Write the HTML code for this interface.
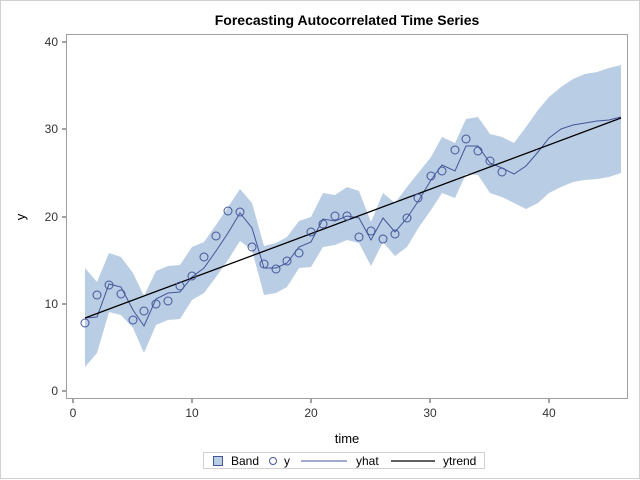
<!DOCTYPE html>
<html><head><style>body{margin:0;background:#fff}svg{display:block}</style></head><body>
<svg width="640" height="480" viewBox="0 0 640 480" xmlns="http://www.w3.org/2000/svg" font-family="Liberation Sans, Arial, sans-serif">
<rect x="0.5" y="0.5" width="639" height="478" fill="#fff" stroke="#d0d0d0"/>
<text x="347" y="25" text-anchor="middle" font-size="14" font-weight="bold" fill="#000">Forecasting Autocorrelated Time Series</text>
<polygon fill="#b9cde5" points="85,268 97,282 109,253 121,257 133,273 144,296 156,271 168,266 180,265 192,247 204,242 216,225 228,207 240,189 252,203 264,246 276,243 287,237 299,221 311,217 323,193 335,195 347,187 359,191 371,222 383,193 395,203 407,187 419,172 431,157 442,137 455,143 466,119 478,117 490,134 502,137 514,143 526,127 538,110 549,97 561,87 573,79 585,74 597,72 609,68 621,65 621,173 609,177 597,179 585,180 573,182 561,187 549,193 538,203 526,209 514,203 502,197 490,193 478,175 466,174 455,198 442,193 431,210 419,227 407,247 395,256 383,242 371,266 359,243 347,240 335,245 323,247 311,267 299,268 287,287 276,293 264,295 252,250 240,241 228,260 216,277 204,293 192,300 180,319 168,320 156,325 144,353 133,328 121,315 109,312 97,353 85,367"/>
<rect x="66.5" y="34.5" width="561" height="364" fill="none" stroke="#a0a0a0"/>
<g stroke="#444" stroke-width="1">
<line x1="62" y1="391" x2="66" y2="391"/><line x1="62" y1="304" x2="66" y2="304"/><line x1="62" y1="217" x2="66" y2="217"/><line x1="62" y1="129" x2="66" y2="129"/><line x1="62" y1="42" x2="66" y2="42"/>
<line x1="73" y1="399" x2="73" y2="403"/><line x1="192" y1="399" x2="192" y2="403"/><line x1="311" y1="399" x2="311" y2="403"/><line x1="430" y1="399" x2="430" y2="403"/><line x1="549" y1="399" x2="549" y2="403"/>
</g>
<g font-size="12" fill="#333" text-anchor="end">
<text x="58" y="395">0</text><text x="58" y="308">10</text><text x="58" y="221">20</text><text x="58" y="133">30</text><text x="58" y="46">40</text>
</g>
<g font-size="12" fill="#333" text-anchor="middle">
<text x="73" y="417">0</text><text x="192" y="417">10</text><text x="311" y="417">20</text><text x="430" y="417">30</text><text x="549" y="417">40</text>
</g>
<text x="347" y="443" text-anchor="middle" font-size="13" fill="#000">time</text>
<text transform="translate(25,217) rotate(-90)" text-anchor="middle" font-size="13" fill="#000">y</text>
<polyline fill="none" stroke="#445599" stroke-width="1" points="85,318 97,317 109,284 121,287 133,310 144,326 156,299 168,293 180,292 192,277 204,268 216,251 228,233 240,213 252,228 264,268 276,268 287,263 299,247 311,242 323,219 335,221 347,216 359,218 371,240 383,218 395,232 407,218 419,200 431,180 442,165 455,171 466,146 478,146 490,163 502,168 514,174 526,166 538,152 549,138 561,129 573,125 585,123 597,121 609,120 621,117"/>
<line x1="85" y1="318" x2="621" y2="118" stroke="#000" stroke-width="1.3"/>
<g fill="none" stroke="#445599" stroke-width="1">
<circle cx="85" cy="323" r="4"/><circle cx="97" cy="295" r="4"/><circle cx="109" cy="285" r="4"/><circle cx="121" cy="294" r="4"/><circle cx="133" cy="320" r="4"/><circle cx="144" cy="311" r="4"/><circle cx="156" cy="304" r="4"/><circle cx="168" cy="301" r="4"/><circle cx="180" cy="286" r="4"/><circle cx="192" cy="276" r="4"/><circle cx="204" cy="257" r="4"/><circle cx="216" cy="236" r="4"/><circle cx="228" cy="211" r="4"/><circle cx="240" cy="212" r="4"/><circle cx="252" cy="247" r="4"/><circle cx="264" cy="264" r="4"/><circle cx="276" cy="269" r="4"/><circle cx="287" cy="261" r="4"/><circle cx="299" cy="253" r="4"/><circle cx="311" cy="232" r="4"/><circle cx="323" cy="224" r="4"/><circle cx="335" cy="216" r="4"/><circle cx="347" cy="216" r="4"/><circle cx="359" cy="237" r="4"/><circle cx="371" cy="231" r="4"/><circle cx="383" cy="239" r="4"/><circle cx="395" cy="234" r="4"/><circle cx="407" cy="218" r="4"/><circle cx="418" cy="198" r="4"/><circle cx="431" cy="176" r="4"/><circle cx="442" cy="171" r="4"/><circle cx="455" cy="150" r="4"/><circle cx="466" cy="139" r="4"/><circle cx="478" cy="151" r="4"/><circle cx="490" cy="161" r="4"/><circle cx="502" cy="172" r="4"/>
</g>
<rect x="203.5" y="452.5" width="281" height="16" fill="#fff" stroke="#d0d0d0"/>
<rect x="213.5" y="456.5" width="9" height="9" fill="#b9cde5" stroke="#445599"/>
<text x="231" y="465" font-size="12" fill="#000">Band</text>
<circle cx="273" cy="461" r="3.5" fill="none" stroke="#445599"/>
<text x="284" y="465" font-size="12" fill="#000">y</text>
<line x1="301" y1="461" x2="347" y2="461" stroke="#445599"/>
<text x="356" y="465" font-size="12" fill="#000">yhat</text>
<line x1="391" y1="461" x2="435" y2="461" stroke="#000" stroke-width="1.3"/>
<text x="443" y="465" font-size="12" fill="#000">ytrend</text>
</svg>
</body></html>
